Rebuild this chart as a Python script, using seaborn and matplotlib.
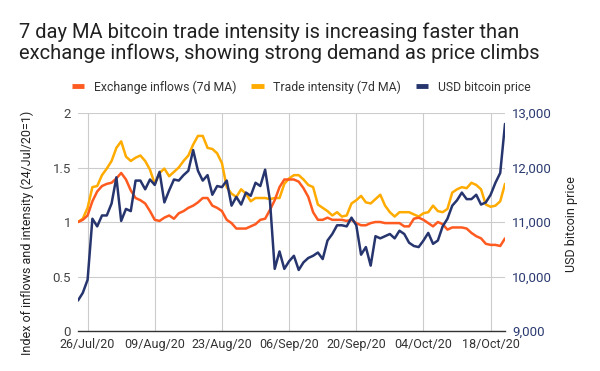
import numpy as np
import pandas as pd
import matplotlib
matplotlib.use('Agg')
import matplotlib.pyplot as plt
import matplotlib.dates as mdates
from matplotlib.ticker import FuncFormatter
from matplotlib.lines import Line2D
import seaborn as sns

# daily data, 24/Jul/20 .. 21/Oct/20
dates = pd.date_range('2020-07-24', '2020-10-21', freq='D')

inflows = [1.00, 1.02, 1.06, 1.19, 1.28, 1.33, 1.35, 1.36, 1.40, 1.45,
           1.39, 1.29, 1.22, 1.20, 1.17, 1.10, 1.02, 1.01, 1.04, 1.06,
           1.03, 1.08, 1.10, 1.13, 1.15, 1.18, 1.22, 1.22, 1.15, 1.13,
           1.10, 1.02, 0.99, 0.94, 0.94, 0.94, 0.96, 0.98, 1.02, 1.03,
           1.11, 1.20, 1.32, 1.39, 1.39, 1.39, 1.37, 1.31, 1.23, 1.09,
           1.02, 1.02, 1.04, 1.02, 1.02, 1.02, 1.01, 1.02, 0.99, 0.97,
           0.97, 0.99, 1.00, 1.00, 0.99, 0.99, 0.99, 0.99, 0.96, 0.96,
           1.03, 1.04, 1.02, 0.99, 0.96, 1.00, 0.98, 0.93, 0.95, 0.95,
           0.95, 0.94, 0.90, 0.87, 0.85, 0.80, 0.79, 0.79, 0.78, 0.85]

intensity = [1.00, 1.03, 1.13, 1.32, 1.33, 1.43, 1.49, 1.56, 1.68, 1.74,
             1.60, 1.56, 1.59, 1.61, 1.56, 1.48, 1.35, 1.45, 1.49, 1.42,
             1.46, 1.50, 1.56, 1.61, 1.71, 1.79, 1.79, 1.68, 1.67, 1.63,
             1.54, 1.32, 1.26, 1.23, 1.30, 1.26, 1.19, 1.22, 1.22, 1.22,
             1.21, 1.22, 1.22, 1.35, 1.40, 1.43, 1.43, 1.39, 1.34, 1.32,
             1.16, 1.13, 1.10, 1.06, 1.09, 1.05, 1.06, 1.17, 1.20, 1.24,
             1.18, 1.17, 1.21, 1.25, 1.15, 1.09, 1.05, 1.09, 1.09, 1.09,
             1.07, 1.05, 1.08, 1.09, 1.15, 1.10, 1.09, 1.12, 1.27, 1.30,
             1.32, 1.31, 1.36, 1.34, 1.30, 1.16, 1.14, 1.15, 1.19, 1.35]

price = [9560, 9700, 9940, 11060, 10920, 11120, 11120, 11340, 11820, 11020,
         11240, 11200, 11760, 11760, 11600, 11780, 11680, 11920, 11360, 11580,
         11780, 11760, 11860, 11940, 12320, 11940, 11760, 11860, 11500, 11660,
         11640, 11760, 11300, 11460, 11320, 11540, 11480, 11720, 11660, 11960,
         11400, 10140, 10460, 10140, 10280, 10380, 10120, 10260, 10340, 10380,
         10440, 10320, 10660, 10780, 10940, 10940, 10920, 11080, 10940, 10400,
         10540, 10200, 10740, 10700, 10740, 10780, 10700, 10840, 10780, 10620,
         10560, 10540, 10660, 10800, 10600, 10660, 10920, 11060, 11300, 11400,
         11540, 11420, 11420, 11500, 11320, 11360, 11500, 11720, 11900, 12800]

labels = ['Exchange inflows (7d MA)', 'Trade intensity (7d MA)', 'USD bitcoin price']
colors = ['#ff5a1f', '#ffab00', '#27356f']
title = ('7 day MA bitcoin trade intensity is increasing faster than\n'
         'exchange inflows, showing strong demand as price climbs')

df = pd.DataFrame({'date': dates, labels[0]: inflows, labels[1]: intensity})
df_long = df.melt(id_vars='date', var_name='series', value_name='index')
df_price = pd.DataFrame({'date': dates, 'price': price})

sns.set_style('white')
plt.rcParams['font.family'] = ['Roboto', 'DejaVu Sans']

fig = plt.figure(figsize=(6, 3.71), dpi=100)
ax = fig.add_axes([0.13, 0.1078, 0.7117, 0.5876])
ax2 = ax.twinx()

# draw intensity first so inflows sit on top of it
sns.lineplot(data=df_long, x='date', y='index', hue='series',
             hue_order=[labels[1], labels[0]],
             palette={labels[0]: colors[0], labels[1]: colors[1]},
             linewidth=1.8, legend=False, ax=ax)
sns.lineplot(data=df_price, x='date', y='price', color=colors[2],
             linewidth=1.8, legend=False, ax=ax2)

ax.set_xlim(dates[0], dates[-1])
ax.set_ylim(0, 2)
ax.set_yticks([0, 0.5, 1, 1.5, 2])
ax.yaxis.set_major_formatter(FuncFormatter(lambda v, p: f'{v:g}'))
ax2.set_ylim(9000, 13000)
ax2.set_yticks([9000, 10000, 11000, 12000, 13000])
ax2.yaxis.set_major_formatter(FuncFormatter(lambda v, p: f'{int(v):,}'))

ticks = pd.date_range('2020-07-26', '2020-10-18', freq='14D')
ax.set_xticks(ticks)
ax.xaxis.set_major_formatter(mdates.DateFormatter('%d/%b/%y'))

ax.grid(True, color='#cccccc', linewidth=0.8)
ax2.grid(False)
for a in (ax, ax2):
    for s in ['top', 'left', 'right']:
        a.spines[s].set_visible(False)
ax.spines['bottom'].set_color('#333333')
ax.spines['bottom'].set_linewidth(1)
ax2.spines['bottom'].set_visible(False)

ax.tick_params(axis='x', length=0, pad=5, labelsize=9, labelcolor='#333333')
ax.tick_params(axis='y', length=0, pad=5, labelsize=9.5, labelcolor='#444444')
ax2.tick_params(axis='y', length=0, pad=5, labelsize=9.5, labelcolor='#2b3a70')

ax.set_xlabel('')
ax.set_ylabel('Index of inflows and intensity (24/Jul/20=1)', fontsize=9, color='#222222')
ax.yaxis.set_label_coords(-0.103, 0.45)
ax2.set_ylabel('USD bitcoin price', fontsize=9, color='#222222')
ax2.yaxis.set_label_coords(1.141, 0.49)

handles = [Line2D([0], [0], color=c, linewidth=3.5, solid_capstyle='butt') for c in colors]
fig.legend(handles, labels, loc='center', bbox_to_anchor=(0.5025, 1 - 87 / 371),
           ncol=3, frameon=False, fontsize=8.8, handlelength=1.0,
           handletextpad=0.8, columnspacing=1.2, labelcolor='#333333')

fig.text(19 / 600, 1 - 22 / 371, title, ha='left', va='top', fontsize=14.5,
         color='#212121', linespacing=1.15)

fig.savefig('out.png', dpi=100)
